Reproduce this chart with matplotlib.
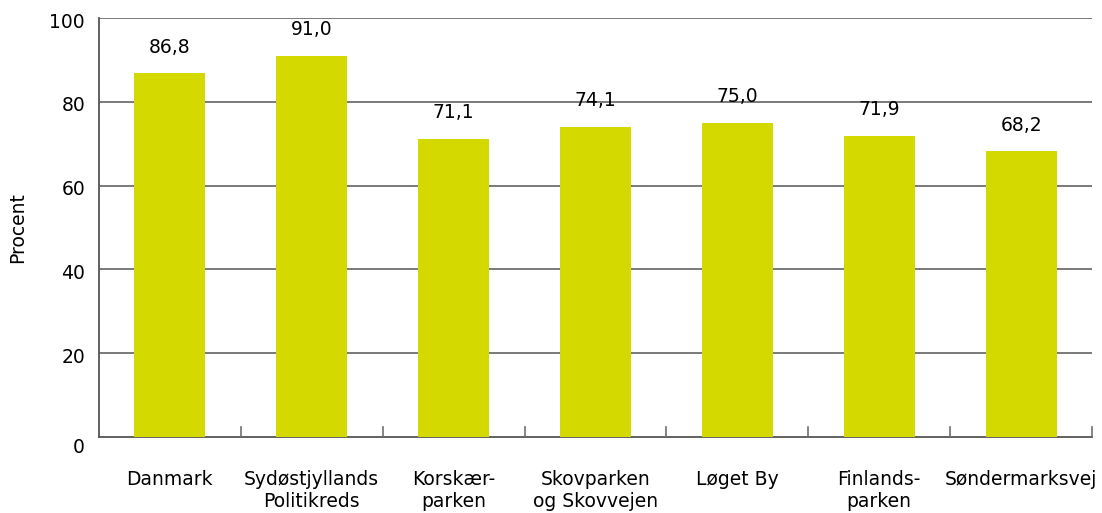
import matplotlib
matplotlib.use("Agg")
import matplotlib.pyplot as plt
import matplotlib.transforms as mtransforms
import numpy as np

categories = ["Danmark", "Sydøstjyllands\nPolitikreds", "Korskær-\nparken",
              "Skovparken\nog Skovvejen", "Løget By", "Finlands-\nparken", "Søndermarksvej"]
values = [86.8, 91.0, 71.1, 74.1, 75.0, 71.9, 68.2]
yticks = [0, 20, 40, 60, 80, 100]

plt.rcParams['font.family'] = ['DejaVu Sans']
FS = 13.5

fig = plt.figure(figsize=(11.02, 5.13), dpi=100)
ax = fig.add_axes([99/1102, 1 - 437/513, (1092-99)/1102, (437-18)/513])

x = np.arange(len(categories))
color = "#D4D900"
ax.bar(x, values, width=0.5, color=color, zorder=3)
ax.set_xlim(-0.5, len(categories) - 0.5)
ax.set_ylim(0, 100)
ax.set_yticks(yticks)
ax.set_yticklabels([str(t) for t in yticks], fontsize=FS)
ax.tick_params(axis='y', length=0, pad=10)
for t, lbl in zip(yticks, ax.get_yticklabels()):
    dy = -6 if t == 0 else -1.5
    off = mtransforms.ScaledTranslation(0, dy/72, fig.dpi_scale_trans)
    lbl.set_transform(lbl.get_transform() + off)
for t in yticks[1:]:
    ax.axhline(t, color="#6f6f6f", lw=1.3, zorder=1)

ax.set_xticks(x)
ax.set_xticklabels(categories, fontsize=FS, linespacing=1.2, va='top')
ax.tick_params(axis='x', length=0, pad=24)
for b in np.arange(0.5, len(categories), 1.0):
    ax.plot([b, b], [0, 0.025], transform=ax.get_xaxis_transform(), color="#6f6f6f", lw=1.2, clip_on=False, zorder=4)

for s in ["top", "right"]:
    ax.spines[s].set_visible(False)
for s in ["left", "bottom"]:
    ax.spines[s].set_color("#555555")
    ax.spines[s].set_linewidth(1.3)

for xi, v in zip(x, values):
    ax.annotate(f"{v:.1f}".replace(".", ","), (xi, v), xytext=(0, 12), textcoords="offset points",
                ha="center", va="bottom", fontsize=FS)

ax.set_ylabel("Procent", fontsize=FS, labelpad=16)

fig.savefig("out.png", dpi=100)
